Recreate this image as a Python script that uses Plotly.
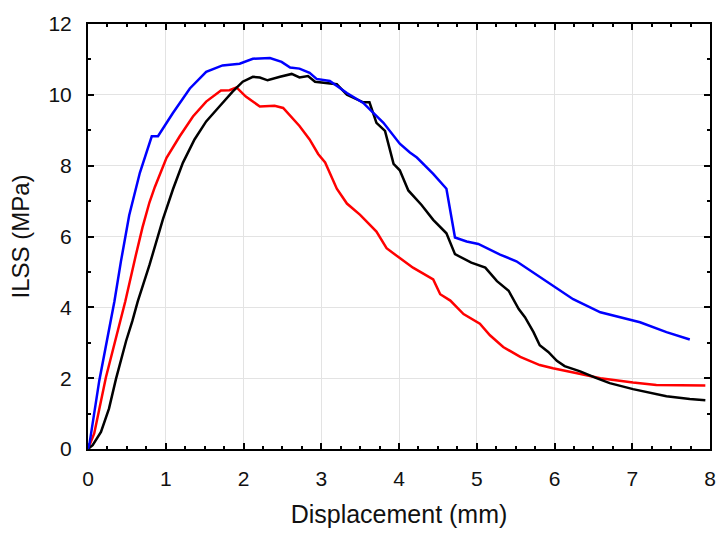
import plotly.graph_objects as go

blue_x = [0, 0.02, 0.145, 0.295, 0.34, 0.423, 0.53, 0.667, 0.82, 0.90, 1.09, 1.31, 1.52, 1.73, 1.95, 2.12, 2.34, 2.49,
          2.60, 2.72, 2.85, 2.94, 3.11, 3.33, 3.54, 3.80, 3.93, 4.01, 4.14, 4.23, 4.44, 4.61, 4.72, 4.87, 5.02, 5.30, 5.51,
          5.73, 5.94, 6.24, 6.59, 6.80, 7.10, 7.44, 7.74]
blue_y = [0, 0.16, 1.93, 3.61, 4.17, 5.29, 6.6, 7.80, 8.83, 8.83, 9.48, 10.18, 10.65, 10.83, 10.88, 11.02, 11.04, 10.93,
          10.77, 10.74, 10.62, 10.45, 10.39, 10.05, 9.77, 9.21, 8.84, 8.62, 8.37, 8.23, 7.77, 7.35, 5.97, 5.86, 5.79, 5.49, 5.30,
          4.98, 4.65, 4.23, 3.86, 3.74, 3.58, 3.30, 3.09]

red_x = [0, 0.08, 0.23, 0.42, 0.48, 0.615, 0.70, 0.79, 0.86, 1.01, 1.18, 1.35, 1.52, 1.71, 1.82, 1.91, 2.03, 2.21, 2.33, 2.40, 2.51,
         2.62, 2.72, 2.85, 2.96, 3.05, 3.20, 3.33, 3.50, 3.71, 3.84, 4.01, 4.18, 4.44, 4.53, 4.66, 4.83, 5.04, 5.17, 5.34, 5.56,
         5.81, 5.98, 6.29, 6.59, 7.01, 7.31, 7.94]
red_y = [0, 0.44, 2.02, 3.61, 4.17, 5.47, 6.25, 6.96, 7.40, 8.22, 8.83, 9.39, 9.81, 10.12, 10.13, 10.21, 9.95, 9.67, 9.67, 9.69,
         9.63, 9.35, 9.12, 8.74, 8.33, 8.09, 7.35, 6.93, 6.61, 6.14, 5.67, 5.39, 5.12, 4.79, 4.37, 4.19, 3.81, 3.54, 3.21, 2.88,
         2.60, 2.37, 2.28, 2.14, 2.0, 1.88, 1.81, 1.79]

black_x = [0, 0.06, 0.167, 0.27, 0.36, 0.49, 0.57, 0.64, 0.79, 0.965, 1.094, 1.22, 1.37, 1.52, 1.69, 1.86, 1.99, 2.12, 2.21, 2.31,
           2.47, 2.62, 2.72, 2.83, 2.92, 3.07, 3.20, 3.33, 3.54, 3.62, 3.71, 3.82, 3.93, 4.01, 4.12, 4.29, 4.44, 4.61, 4.72, 4.93,
           5.11, 5.26, 5.41, 5.54, 5.62, 5.73, 5.81, 5.92, 6.03, 6.13, 6.33, 6.54, 6.71, 7.01, 7.27, 7.44, 7.74, 7.94]
black_y = [0, 0.11, 0.48, 1.14, 1.98, 3.05, 3.61, 4.17, 5.19, 6.50, 7.34, 8.08, 8.74, 9.25, 9.67, 10.09, 10.37, 10.51, 10.49, 10.41,
           10.51, 10.59, 10.49, 10.53, 10.37, 10.34, 10.30, 10.0, 9.79, 9.79, 9.21, 8.98, 8.05, 7.87, 7.30, 6.89, 6.47, 6.09, 5.50,
           5.26, 5.12, 4.74, 4.47, 3.95, 3.72, 3.30, 2.93, 2.74, 2.49, 2.34, 2.19, 2.0, 1.86, 1.69, 1.56, 1.49, 1.41, 1.38]

x_ticks = [0, 1, 2, 3, 4, 5, 6, 7, 8]
y_ticks = [0, 2, 4, 6, 8, 10, 12]

fig = go.Figure()
for xs, ys, col in [(red_x, red_y, "#ff0000"), (black_x, black_y, "#000000"), (blue_x, blue_y, "#0000ff")]:
    fig.add_trace(go.Scatter(x=xs, y=ys, mode="lines", line=dict(color=col, width=2.5), showlegend=False))

font = "Liberation Sans, Arial, sans-serif"
axis_common = dict(
    showline=True, linecolor="black", linewidth=2, mirror="allticks",
    ticks="inside", ticklen=6, tickwidth=2, tickcolor="black",
    showgrid=True, gridcolor="#e3e3e3", gridwidth=1, zeroline=False,
    tickfont=dict(family=font, size=21, color="#111"),
)
fig.update_xaxes(range=[0, 8], tickvals=x_ticks, ticklabelstandoff=10,
                 minor=dict(dtick=0.25, ticks="inside", ticklen=3, tickwidth=1.5, tickcolor="black", showgrid=False),
                 title=dict(text="Displacement (mm)", font=dict(family=font, size=25, color="#111"), standoff=16),
                 **axis_common)
fig.update_yaxes(range=[0, 12], tickvals=y_ticks, ticklabelstandoff=10,
                 minor=dict(dtick=1, ticks="inside", ticklen=3, tickwidth=1.5, tickcolor="black", showgrid=False),
                 title=dict(text="ILSS (MPa)", font=dict(family=font, size=24, color="#111"), standoff=12),
                 **axis_common)
fig.update_layout(width=728, height=543, margin=dict(l=88, r=16, t=20, b=94),
                  plot_bgcolor="white", paper_bgcolor="white")
fig.write_html("out.html")
